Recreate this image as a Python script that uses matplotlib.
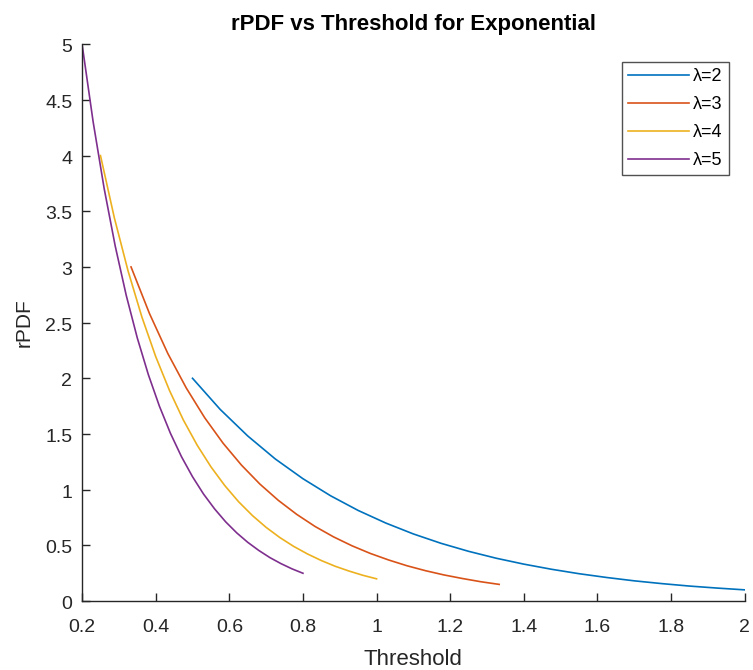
import matplotlib
matplotlib.use("Agg")
import matplotlib.pyplot as plt
import matplotlib.transforms as mtransforms

plt.rcParams['font.family'] = ['Liberation Sans', 'DejaVu Sans']

# values
x_l2 = [0.5, 0.575, 0.65, 0.725, 0.8, 0.875, 0.95, 1.025, 1.1, 1.175, 1.25,
        1.325, 1.4, 1.475, 1.55, 1.625, 1.7, 1.775, 1.85, 1.925, 2.0]
y_l2 = [2.0, 1.721, 1.482, 1.275, 1.098, 0.945, 0.813, 0.700, 0.602, 0.518, 0.446,
        0.384, 0.331, 0.285, 0.245, 0.211, 0.181, 0.156, 0.134, 0.116, 0.100]

x_l3 = [0.333, 0.383, 0.433, 0.483, 0.533, 0.583, 0.633, 0.683, 0.733, 0.783, 0.833,
        0.883, 0.933, 0.983, 1.033, 1.083, 1.133, 1.183, 1.233, 1.283, 1.333]
y_l3 = [3.0, 2.582, 2.222, 1.913, 1.646, 1.417, 1.220, 1.050, 0.904, 0.778, 0.669,
        0.576, 0.496, 0.427, 0.368, 0.316, 0.272, 0.234, 0.202, 0.173, 0.149]

x_l4 = [0.25, 0.2875, 0.325, 0.3625, 0.4, 0.4375, 0.475, 0.5125, 0.55, 0.5875, 0.625,
        0.6625, 0.7, 0.7375, 0.775, 0.8125, 0.85, 0.8875, 0.925, 0.9625, 1.0]
y_l4 = [4.0, 3.443, 2.963, 2.550, 2.195, 1.890, 1.626, 1.400, 1.205, 1.037, 0.892,
        0.768, 0.661, 0.569, 0.490, 0.422, 0.363, 0.312, 0.269, 0.231, 0.199]

x_l5 = [0.2, 0.23, 0.26, 0.29, 0.32, 0.35, 0.38, 0.41, 0.44, 0.47, 0.5,
        0.53, 0.56, 0.59, 0.62, 0.65, 0.68, 0.71, 0.74, 0.77, 0.8]
y_l5 = [5.0, 4.304, 3.704, 3.188, 2.744, 2.362, 2.033, 1.750, 1.506, 1.296, 1.116,
        0.960, 0.827, 0.711, 0.612, 0.527, 0.454, 0.390, 0.336, 0.289, 0.249]

labels = ['λ=2', 'λ=3', 'λ=4', 'λ=5']
colors = ['#0072BD', '#D95319', '#EDB120', '#7E2F8E']
xticks = [0.2, 0.4, 0.6, 0.8, 1, 1.2, 1.4, 1.6, 1.8, 2]
yticks = [0, 0.5, 1, 1.5, 2, 2.5, 3, 3.5, 4, 4.5, 5]

fig = plt.figure(figsize=(7.53, 6.70), dpi=100)
ax = fig.add_axes([0.109, 0.103, 0.880, 0.831])

series = [(x_l2, y_l2), (x_l3, y_l3), (x_l4, y_l4), (x_l5, y_l5)]
for (xs, ys), lab, c in zip(series, labels, colors):
    ax.plot(xs, ys, color=c, lw=1.2, label=lab)

ax.set_xlim(0.2, 2)
ax.set_ylim(0, 5)
ax.set_xticks(xticks)
ax.set_xticklabels([f'{t:g}' for t in xticks])
ax.set_yticks(yticks)
ax.set_yticklabels([f'{t:g}' for t in yticks])
ax.tick_params(direction='in', length=6, width=1, labelsize=14, colors='#262626')
ax.tick_params(axis='x', pad=13)
ax.tick_params(axis='y', pad=7)
# y labels sit a touch low in the reference
off = mtransforms.ScaledTranslation(0, -1.5 / 100, fig.dpi_scale_trans)
for lbl in ax.get_yticklabels():
    lbl.set_transform(lbl.get_transform() + off)

for s in ['top', 'right']:
    ax.spines[s].set_visible(False)
for s in ['left', 'bottom']:
    ax.spines[s].set_color('#262626')
    ax.spines[s].set_linewidth(1)

ax.set_xlabel('Threshold', fontsize=16, color='#262626', labelpad=9)
ax.set_ylabel('rPDF', fontsize=15, color='#262626', labelpad=8)
ax.set_title('rPDF vs Threshold for Exponential', fontsize=16,
             fontweight='bold', color='black', pad=10)

leg = ax.legend(loc='upper right', bbox_to_anchor=(0.976, 0.968), fontsize=13,
                frameon=True, fancybox=False, handlelength=3.4,
                borderpad=0.35, labelspacing=0.6, handletextpad=0.2,
                borderaxespad=0)
leg.get_frame().set_edgecolor('#262626')
leg.get_frame().set_linewidth(1)

fig.savefig('out.png', dpi=100)
